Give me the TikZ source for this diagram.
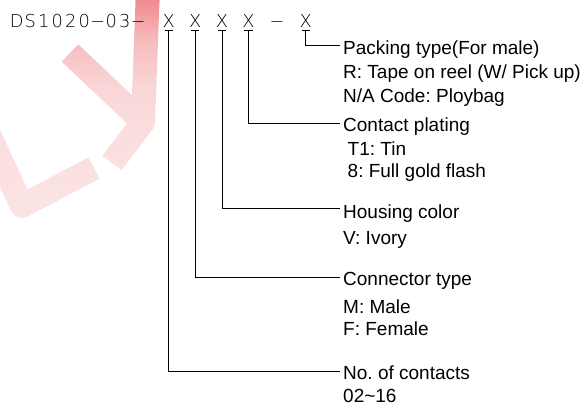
\documentclass[tikz,border=0pt]{standalone}
\usepackage{fontspec}
\setmainfont{Liberation Sans}
\IfFontExistsTF{DejaVu Sans ExtraLight}{\newfontfamily\hdrfont{DejaVu Sans ExtraLight}\def\hdrsize{17.8}}{\newfontfamily\hdrfont{Liberation Sans}\def\hdrsize{18}}
\usetikzlibrary{fadings}
\definecolor{wmred}{RGB}{226,24,32}
\pgfdeclareverticalshading{wmshade}{100bp}{color(0bp)=(black!88); color(25bp)=(black!88); color(42bp)=(black!86); color(52bp)=(black!82); color(61bp)=(black!72); color(65bp)=(black!62); color(70bp)=(black!50); color(75bp)=(black!40); color(100bp)=(black!40)}
\pgfdeclarefading{wmfade}{\pgfuseshading{wmshade}}
\begin{document}
\frenchspacing
\begin{tikzpicture}[x=1pt,y=-1pt,
  hdr/.style={font=\hdrfont\fontsize{\hdrsize}{19}\selectfont, anchor=base, inner xsep=0pt, inner ysep=2.5pt},
  lbl/.style={font=\fontsize{19}{23}\selectfont, anchor=base west, inner sep=0pt},
  lead/.style={line width=1pt, black},
  wmark/.style={draw=wmred, line width=24pt, line join=round, line cap=butt, path fading=wmfade}]
\useasboundingbox (0,0) rectangle (585,406);
% watermark
\begin{scope}
\clip (0,0) rectangle (585,406);
\draw[wmark] (-14,128) -- (22,206) -- (94,168)
             (70,53) -- (143,122) -- (148,-12)
             (143,122) -- (112,163);
\end{scope}
% header code
\foreach \c [count=\i from 0] in {D,S,1,0,2,0,−,0,3,−}
  \node[hdr] (p\i) at (16.7+13.5*\i, 27.5) {\c};
\node[hdr] (xa) at (168.8,27.5) {X};
\node[hdr] (xb) at (195.2,27.5) {X};
\node[hdr] (xc) at (222,27.5) {X};
\node[hdr] (xd) at (248.5,27.5) {X};
\node[hdr] (dd) at (277,27.5) {−};
\node[hdr] (xe) at (305.8,27.5) {X};
\foreach \n in {xa,xb,xc,xd,xe}
  \draw[lead] ([xshift=-4.2pt]\n.south) -- ([xshift=4.2pt]\n.south);
% labels
\node[lbl] (pk1) at (343,55) {Packing type(For male)};
\node[lbl] (pk2) at (343,79) {R: Tape on reel (W/ Pick up)};
\node[lbl] (pk3) at (343,102.7) {N/A Code: Ploybag};
\node[lbl] (cp1) at (343,131.7) {Contact plating};
\node[lbl] (cp2) at (347.5,155) {T1: Tin};
\node[lbl] (cp3) at (347.5,177) {8: Full gold flash};
\node[lbl] (hc1) at (343,218.3) {Housing color};
\node[lbl] (hc2) at (343,244.3) {V: Ivory};
\node[lbl] (ct1) at (343,285) {Connector type};
\node[lbl] (ct2) at (343,313.3) {M: Male};
\node[lbl] (ct3) at (343,335) {F: Female};
\node[lbl] (nc1) at (343,379.3) {No. of contacts};
\node[lbl] (nc2) at (343,402.7) {02\textasciitilde16};
% leader ends
\coordinate (epk) at (340,45.7);
\coordinate (ecp) at (340,124);
\coordinate (ehc) at (340,208.3);
\coordinate (ect) at (340,277.7);
\coordinate (enc) at (340,371);
% leaders
\draw[lead] (xe.south) |- (epk);
\draw[lead] (xd.south) |- (ecp);
\draw[lead] (xc.south) |- (ehc);
\draw[lead] (xb.south) |- (ect);
\draw[lead] (xa.south) |- (enc);
\end{tikzpicture}
\end{document}
